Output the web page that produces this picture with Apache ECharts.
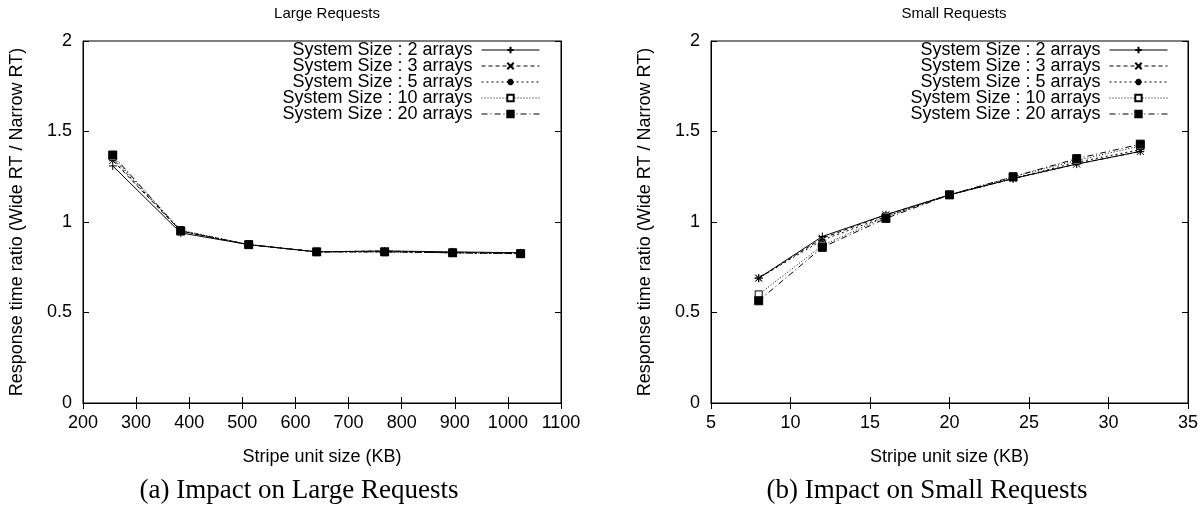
<!DOCTYPE html>
<html>
<head>
<meta charset="utf-8">
<script src="https://cdn.jsdelivr.net/npm/echarts@6/dist/echarts.min.js"></script>
<style>html,body{margin:0;padding:0;background:#fff;}#c{width:1204px;height:505px;}</style>
</head>
<body>
<div id="c"></div>
<script>
// ---- data ----
var seriesNames = ['System Size : 2 arrays','System Size : 3 arrays','System Size : 5 arrays','System Size : 10 arrays','System Size : 20 arrays'];
var largeX = [256, 384, 512, 640, 768, 896, 1024];
var large2  = [1.31, 0.94, 0.875, 0.835, 0.84, 0.835, 0.83];
var large3  = [1.34, 0.95, 0.875, 0.835, 0.84, 0.83, 0.83];
var large5  = [1.35, 0.95, 0.875, 0.835, 0.835, 0.83, 0.825];
var large10 = [1.36, 0.955, 0.875, 0.835, 0.835, 0.83, 0.825];
var large20 = [1.37, 0.95, 0.875, 0.835, 0.835, 0.83, 0.825];
var smallX = [8, 12, 16, 20, 24, 28, 32];
var small2  = [0.69, 0.92, 1.04, 1.15, 1.24, 1.32, 1.39];
var small3  = [0.69, 0.91, 1.04, 1.15, 1.24, 1.32, 1.39];
var small5  = [0.69, 0.90, 1.03, 1.15, 1.24, 1.33, 1.40];
var small10 = [0.60, 0.87, 1.03, 1.15, 1.25, 1.34, 1.42];
var small20 = [0.565, 0.86, 1.02, 1.15, 1.25, 1.35, 1.43];
var largeTicks = [200, 1100, 100];
var smallTicks = [5, 35, 5];
var yTicks = [0, 2, 0.5];
var titles = ['Large Requests', 'Small Requests'];
var captions = ['(a) Impact on Large Requests', '(b) Impact on Small Requests'];
var xName = 'Stripe unit size (KB)';
var yName = 'Response time ratio (Wide RT / Narrow RT)';

// ---- styles ----
var FONT = 'Liberation Sans';
var symbols = [
  {symbol: 'path://M5,0L5,10M0,5L10,5', size: 8, fill: '#000'},
  {symbol: 'path://M0,0L10,10M10,0L0,10', size: 7, fill: '#000'},
  {symbol: 'path://M5,0L5,10M0,5L10,5M1.5,1.5L8.5,8.5M8.5,1.5L1.5,8.5', size: 8, fill: '#000'},
  {symbol: 'rect', size: 7, fill: '#fff'},
  {symbol: 'rect', size: 8, fill: '#000'}
];
var dashes = ['solid', [4, 3], [2, 3], [1, 2], [6, 3, 1, 3]];

var grids = [
  {left: 83, top: 41, width: 478, height: 362, show: true, borderColor: '#000', borderWidth: 1},
  {left: 711, top: 41, width: 477, height: 362, show: true, borderColor: '#000', borderWidth: 1}
];

function plainNum(v) { return String(Math.round(v * 1000) / 1000); }

function xAxisPair(gi, t) {
  var base = {
    gridIndex: gi, type: 'value', min: t[0], max: t[1], interval: t[2],
    splitLine: {show: false},
    axisLine: {show: true, lineStyle: {color: '#000', width: 1}},
    axisTick: {inside: true, length: 6, lineStyle: {color: '#000'}}
  };
  var bottom = Object.assign({}, base, {
    position: 'bottom',
    axisLabel: {color: '#000', fontSize: 18, fontFamily: FONT, margin: 11, formatter: plainNum},
    name: xName, nameLocation: 'middle', nameGap: 45,
    nameTextStyle: {color: '#000', fontSize: 18, fontFamily: FONT}
  });
  var top = Object.assign({}, base, {position: 'top', axisLabel: {show: false}});
  return [bottom, top];
}
function yAxisPair(gi) {
  var base = {
    gridIndex: gi, type: 'value', min: yTicks[0], max: yTicks[1], interval: yTicks[2],
    splitLine: {show: false},
    axisLine: {show: true, lineStyle: {color: '#000', width: 1}},
    axisTick: {inside: true, length: 6, lineStyle: {color: '#000'}}
  };
  var left = Object.assign({}, base, {
    position: 'left',
    axisLabel: {color: '#000', fontSize: 18, fontFamily: FONT, margin: 11, formatter: plainNum},
    name: yName, nameLocation: 'middle', nameGap: 57,
    nameTextStyle: {color: '#000', fontSize: 18, fontFamily: FONT}
  });
  var right = Object.assign({}, base, {position: 'right', axisLabel: {show: false}});
  return [left, right];
}

var xAxes = xAxisPair(0, largeTicks).concat(xAxisPair(1, smallTicks));
var yAxes = yAxisPair(0).concat(yAxisPair(1));

function zip(xs, ys) { return xs.map(function (x, i) { return [x, ys[i]]; }); }
var largeSets = [large2, large3, large5, large10, large20];
var smallSets = [small2, small3, small5, small10, small20];

var series = [];
function addSeries(xs, sets, xi, yi) {
  sets.forEach(function (ys, i) {
    series.push({
      name: seriesNames[i], type: 'line', xAxisIndex: xi, yAxisIndex: yi,
      data: zip(xs, ys), symbol: symbols[i].symbol, symbolSize: symbols[i].size,
      showAllSymbol: true, animation: false, z: 2 + i,
      lineStyle: {color: '#000', width: 1, type: dashes[i]},
      itemStyle: {color: symbols[i].fill, borderColor: '#000', borderWidth: 1}
    });
  });
}
addSeries(largeX, largeSets, 0, 0);
addSeries(smallX, smallSets, 2, 2);

var legends = [];
var legendRights = [1204 - 540, 1204 - 1168];
var legendTop = 41;
legendRights.forEach(function (r) {
  seriesNames.forEach(function (n, i) {
    legends.push({
      data: [n], right: r, top: legendTop + i * 16, orient: 'horizontal', align: 'right',
      itemWidth: 58, itemHeight: 8, padding: 0, selectedMode: false,
      lineStyle: {width: 1},
      textStyle: {color: '#000', fontSize: 18, fontFamily: FONT, padding: [0, 4, 0, 0]}
    });
  });
});

var titleComps = [
  {text: titles[0], left: 322, top: 1, textAlign: 'center', textStyle: {fontSize: 15, fontWeight: 'normal', color: '#000', fontFamily: FONT}},
  {text: titles[1], left: 949, top: 1, textAlign: 'center', textStyle: {fontSize: 15, fontWeight: 'normal', color: '#000', fontFamily: FONT}},
  {text: captions[0], left: 294, top: 472, textAlign: 'center', textStyle: {fontSize: 27, fontWeight: 'normal', color: '#000', fontFamily: 'Liberation Serif'}},
  {text: captions[1], left: 922, top: 472, textAlign: 'center', textStyle: {fontSize: 27, fontWeight: 'normal', color: '#000', fontFamily: 'Liberation Serif'}}
];

var chart = echarts.init(document.getElementById('c'), null, {renderer: 'canvas'});
chart.setOption({
  animation: false,
  backgroundColor: '#fff',
  title: titleComps,
  legend: legends,
  grid: grids,
  xAxis: xAxes,
  yAxis: yAxes,
  series: series
});
</script>
</body>
</html>
